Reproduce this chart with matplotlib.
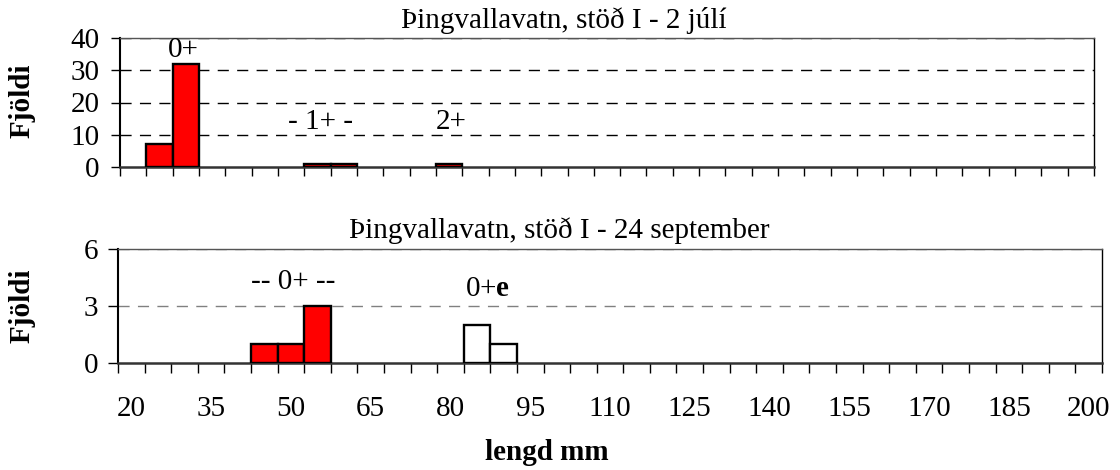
import numpy as np
import matplotlib
matplotlib.use("Agg")
import matplotlib.pyplot as plt

plt.rcParams["font.family"] = ["Liberation Serif", "DejaVu Serif"]
plt.rcParams["mathtext.fontset"] = "custom"
plt.rcParams["mathtext.rm"] = "Liberation Serif"
plt.rcParams["mathtext.bf"] = "Liberation Serif:bold"

# ---------------------------------------------------------------------------
# Data: length classes (mm) and counts
# ---------------------------------------------------------------------------
LENGD = [20, 25, 30, 35, 40, 45, 50, 55, 60, 65, 70, 75, 80, 85, 90, 95, 100,
         105, 110, 115, 120, 125, 130, 135, 140, 145, 150, 155, 160, 165, 170,
         175, 180, 185, 190, 195, 200]

JULI_LENGD = [25, 30, 55, 60, 80]
JULI_FJOLDI = [7, 32, 1, 1, 1]

SEPT_0_LENGD = [45, 50, 55]
SEPT_0_FJOLDI = [1, 1, 3]
SEPT_0E_LENGD = [85, 90]
SEPT_0E_FJOLDI = [2, 1]

TITLE_JULI = "Þingvallavatn, stöð I - 2 júlí"
TITLE_SEPT = "Þingvallavatn, stöð I - 24 september"

RED = "#ff0000"
FS = 21       # titles, labels, annotations
FS_TICK = 21  # tick labels


def idx(values):
    return [LENGD.index(v) for v in values]


def style_ax(ax, ymax, ystep, gridcolor, ticklen, ypad):
    n = len(LENGD)
    ax.set_xlim(-0.5, n - 0.5)
    ax.set_ylim(0, ymax)
    yt = list(range(0, ymax + 1, ystep))
    ax.set_yticks(yt)
    ax.set_xticks(np.arange(-0.5, n, 1.0))
    ax.set_xticklabels([])
    ax.tick_params(axis="x", which="major", length=ticklen, width=1,
                   direction="out", color="black")
    ax.tick_params(axis="y", length=ticklen, width=1, direction="out",
                   labelsize=FS_TICK, pad=ypad)
    for y in yt[1:]:
        ax.axhline(y, color=gridcolor, linestyle=(0, (8, 6)), linewidth=1,
                   zorder=0)
    ax.spines["left"].set_linewidth(1.5)
    ax.spines["bottom"].set_linewidth(1.8)
    ax.spines["bottom"].set_color("#333333")
    ax.spines["right"].set_linewidth(1)
    ax.spines["top"].set_linewidth(1)
    ax.spines["top"].set_color("#555555")


fig = plt.figure(figsize=(11.2, 4.7), dpi=100)

# --- top panel: 2 July ------------------------------------------------------
ax1 = fig.add_axes([120 / 1120, 1 - 167 / 470, 974 / 1120, 129 / 470])
style_ax(ax1, 40, 10, "black", 6.5, 8)
ax1.bar(idx(JULI_LENGD), JULI_FJOLDI, width=1.0, color=RED,
        edgecolor="black", linewidth=1.7, zorder=3)
ax1.text(1.9, 36.3, "0+", ha="center", va="center", fontsize=FS)
ax1.text(7.1, 14.0, "- 1+ -", ha="center", va="center", fontsize=FS)
ax1.text(12.1, 14.0, "2+", ha="center", va="center", fontsize=FS)

# --- bottom panel: 24 September --------------------------------------------
ax2 = fig.add_axes([118 / 1120, 1 - 363 / 470, 984 / 1120, 114 / 470])
style_ax(ax2, 6, 3, "#808080", 7.2, 7)
ax2.bar(idx(SEPT_0_LENGD), SEPT_0_FJOLDI, width=1.0, color=RED,
        edgecolor="black", linewidth=1.7, zorder=3)
ax2.bar(idx(SEPT_0E_LENGD), SEPT_0E_FJOLDI, width=1.0, color="white",
        edgecolor="black", linewidth=1.7, zorder=3)
ax2.text(6.1, 4.26, "-- 0+ --", ha="center", va="center", fontsize=FS)
ax2.text(13.4, 3.9, r"0+$\mathbf{e}$", ha="center", va="center", fontsize=FS)

label_pos = list(range(0, len(LENGD), 3))
ax2.set_xticks(label_pos, minor=True)
ax2.set_xticklabels([str(LENGD[i]) for i in label_pos], minor=True)
ax2.tick_params(axis="x", which="minor", length=0, pad=24, labelsize=FS_TICK)

# --- figure texts -------------------------------------------------------------
for yc in (101, 306):
    fig.text(22 / 1120, 1 - yc / 470, "Fjöldi", rotation=90, ha="center",
             va="center", fontsize=FS, fontweight="bold")
fig.text(564 / 1120, 1 - 28 / 470, TITLE_JULI, ha="center", va="baseline",
         fontsize=FS)
fig.text(559 / 1120, 1 - 238 / 470, TITLE_SEPT, ha="center", va="baseline",
         fontsize=FS)
fig.text(547 / 1120, 1 - 453 / 470, "lengd mm", ha="center", va="center",
         fontsize=FS, fontweight="bold")

fig.savefig("out.png", dpi=100, facecolor="white")
